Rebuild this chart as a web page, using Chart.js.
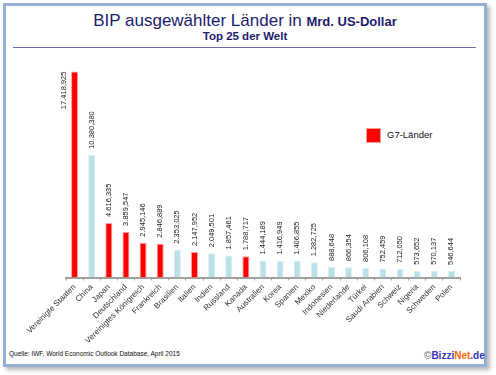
<!DOCTYPE html>
<html>
<head>
<meta charset="utf-8">
<script src="https://cdn.jsdelivr.net/npm/chart.js@4"></script>
<style>
  body { margin: 0; background: #fff; font-family: "Liberation Sans", Arial, sans-serif; }
  #wrap { position: relative; width: 496px; height: 375px; overflow: hidden; }
  #frame { position: absolute; left: 3px; top: 3px; width: 478px; height: 358px;
           border: 3px solid #93afd3; box-shadow: 3px 3px 4px #b9b9b9; background: #fff; }
  #chart { position: absolute; left: 0; top: 0; }
  .txt { position: absolute; white-space: nowrap; }
  #title { left: 0; width: 490px; top: 11px; text-align: center; color: #1c1c6e; font-size: 17px; }
  #title b { font-size: 13px; }
  #sub { left: 0; width: 490px; top: 30px; text-align: center; color: #1c1c6e; font-size: 11.5px; font-weight: bold; }
  #rule { position: absolute; left: 13px; top: 47px; width: 463px; height: 0; border-top: 1.5px solid #6e6ea8; }
  #legbox { position: absolute; left: 366px; top: 128px; width: 13px; height: 13px; background: #ff0000; border: 1px solid #ff9a9a; }
  #legtxt { left: 387px; top: 129px; font-size: 9.5px; color: #111; }
  #src { left: 9px; top: 350px; font-size: 6.5px; color: #111; }
  #logo { left: 424px; top: 350px; font-size: 10px; font-weight: bold; }
</style>
</head>
<body>
<div id="wrap">
  <div id="frame"></div>
  <div class="txt" id="title">BIP ausgewählter Länder in <b>Mrd. US-Dollar</b></div>
  <div class="txt" id="sub">Top 25 der Welt</div>
  <div id="rule"></div>
  <div id="legbox"></div>
  <div class="txt" id="legtxt">G7-Länder</div>
  <div class="txt" id="src">Quelle: IWF, World Economic Outlook Database, April 2015</div>
  <div class="txt" id="logo"><span style="color:#808080">©</span><span style="color:#3434b4">Bizzi</span><span style="color:#ff6a00">Net</span><span style="color:#3434b4">.de</span></div>
  <canvas id="chart" width="496" height="375"></canvas>
</div>
<script>
const countries = ['Vereinigte Staaten', 'China', 'Japan', 'Deutschland', 'Vereinigtes Königreich', 'Frankreich',
  'Brasilien', 'Italien', 'Indien', 'Russland', 'Kanada', 'Australien', 'Korea', 'Spanien', 'Mexiko',
  'Indonesien', 'Niederlande', 'Türkei', 'Saudi Arabien', 'Schweiz', 'Nigeria', 'Schweden', 'Polen'];
const gdp = [17418.925, 10380.380, 4616.335, 3859.547, 2945.146, 2846.889, 2353.025, 2147.952, 2049.501,
  1857.461, 1788.717, 1444.189, 1416.949, 1406.855, 1282.725, 888.648, 866.354, 806.108, 752.459,
  712.050, 573.652, 570.137, 546.644];
const g7 = ['Vereinigte Staaten', 'Japan', 'Deutschland', 'Vereinigtes Königreich', 'Frankreich', 'Italien', 'Kanada'];

const red = '#ff0000';
const blue = '#b9e0e4';

// 17.418,925 style
function fmt(v) {
    const parts = v.toFixed(3).split('.');
    const int = parts[0].replace(/\B(?=(\d{3})+(?!\d))/g, '.');
    return int + ',' + parts[1];
}

const valueLabels = {
    id: 'valueLabels',
    afterDatasetsDraw(chart) {
        const ctx = chart.ctx;
        const meta = chart.getDatasetMeta(0);
        ctx.save();
        ctx.font = '7.5px "Liberation Sans", Arial, sans-serif';
        ctx.fillStyle = '#1a1a1a';
        ctx.textBaseline = 'middle';
        meta.data.forEach((bar, i) => {
            ctx.save();
            if (i === 0) {
                // no room above the first bar: put it beside the bar
                ctx.translate(bar.x - 11, bar.y);
                ctx.rotate(-Math.PI / 2);
                ctx.textAlign = 'right';
            } else {
                ctx.translate(bar.x, bar.y - 6);
                ctx.rotate(-Math.PI / 2);
                ctx.textAlign = 'left';
            }
            ctx.fillText(fmt(gdp[i]), 0, 0);
            ctx.restore();
        });
        ctx.restore();
    }
};

new Chart(document.getElementById('chart').getContext('2d'), {
    type: 'bar',
    data: {
        labels: countries,
        datasets: [{
            data: gdp,
            backgroundColor: countries.map(c => g7.includes(c) ? red : blue),
            borderColor: countries.map(c => g7.includes(c) ? '#ff9c9c' : '#d9eff1'),
            borderWidth: 1,
            borderSkipped: 'bottom',
            barPercentage: 0.41,
            categoryPercentage: 1
        }]
    },
    options: {
        responsive: false,
        animation: false,
        layout: { padding: { left: 66, right: 36, top: 60, bottom: 0 } },
        plugins: { legend: { display: false }, tooltip: { enabled: false } },
        scales: {
            x: {
                grid: { offset: true, drawOnChartArea: false, tickLength: 3, color: '#a0a0a0' },
                border: { color: '#a0a0a0', width: 2 },
                ticks: {
                    minRotation: 45, maxRotation: 45, autoSkip: false, padding: 2,
                    color: '#333', font: { family: '"Liberation Sans", Arial, sans-serif', size: 8 }
                },
                afterFit(scale) {
                    scale.height = 97.5;
                    scale.paddingLeft = 0;
                    scale.paddingRight = 0;
                }
            },
            y: { display: false, min: 0, max: 18400 }
        }
    },
    plugins: [valueLabels]
});
</script>
</body>
</html>
